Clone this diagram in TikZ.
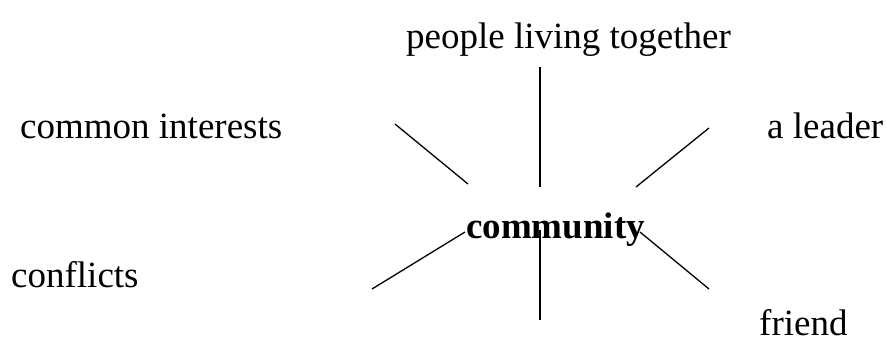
\documentclass[tikz,border=0pt]{standalone}
\usepackage{fontspec}
\setmainfont{Liberation Serif}
\begin{document}
\begin{tikzpicture}[x=1pt,y=-1pt,
  lbl/.style={anchor=base west,inner sep=0pt,font=\fontsize{37}{44}\selectfont},
  hub/.style={anchor=base west,inner sep=0pt,font=\fontsize{37}{44}\selectfont\bfseries},
  spoke/.style={line width=1.3pt,black}]
\useasboundingbox (0,0) rectangle (887,338);
\node[lbl] (plt) at (406,48) {people living together};
\node[lbl] (ci) at (20,138) {common interests};
\node[lbl] (al) at (767,138) {a leader};
\node[lbl] (cf) at (11,287) {conflicts};
\node[lbl] (fr) at (759,335) {friend};
\node[hub] (cm) at (466,238) {community};
\coordinate (t1) at (540,67);  \coordinate (t2) at (540,187);
\coordinate (ul1) at (395,124); \coordinate (ul2) at (468,184);
\coordinate (ur1) at (709,128); \coordinate (ur2) at (636,187);
\coordinate (ll1) at (372,289); \coordinate (ll2) at (465,232);
\coordinate (b1) at (540,230); \coordinate (b2) at (540,320);
\coordinate (lr1) at (640,232); \coordinate (lr2) at (709,289);
\draw[spoke] (t1) -- (t2);
\draw[spoke] (ul1) -- (ul2);
\draw[spoke] (ur1) -- (ur2);
\draw[spoke] (ll1) -- (ll2);
\draw[spoke] (b1) -- (b2);
\draw[spoke] (lr1) -- (lr2);
\end{tikzpicture}
\end{document}
